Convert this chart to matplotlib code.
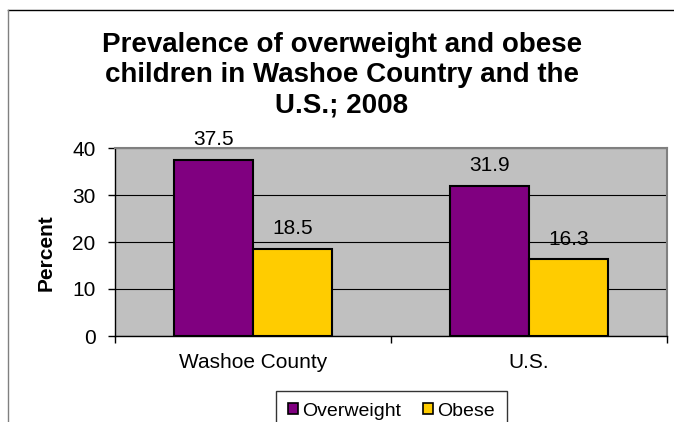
"""Bar chart: overweight and obese children, Washoe County vs U.S., 2008."""

import matplotlib
import matplotlib.pyplot as plt
from matplotlib.lines import Line2D
from matplotlib.patches import Patch
import numpy as np

matplotlib.use("Agg")

CATEGORIES = ["Washoe County", "U.S."]
SERIES = ["Overweight", "Obese"]
OVERWEIGHT = [37.5, 31.9]
OBESE = [18.5, 16.3]
Y_TICKS = [0, 10, 20, 30, 40]
TITLE = "Prevalence of overweight and obese\nchildren in Washoe Country and the\nU.S.; 2008"

PURPLE = "#800080"
GOLD = "#FFCC00"
PLOT_BG = "#C0C0C0"
W, H = 674, 422

plt.rcParams["font.family"] = ["Liberation Sans", "DejaVu Sans"]

fig = plt.figure(figsize=(W / 100, H / 100), dpi=100)
ax = fig.add_axes([115 / W, 1 - 336 / H, 552 / W, 188 / H])
ax.set_facecolor(PLOT_BG)

x = np.arange(len(CATEGORIES))
width = 0.286
for offset, values, color, name in ((-width / 2, OVERWEIGHT, PURPLE, SERIES[0]),
                                    (width / 2, OBESE, GOLD, SERIES[1])):
    bars = ax.bar(x + offset, values, width, color=color, edgecolor="black", linewidth=1.5, zorder=3)
    for bar, value in zip(bars, values):
        ax.annotate(f"{value:.1f}", (bar.get_x() + bar.get_width() / 2, value),
                    xytext=(0, 10.5), textcoords="offset points",
                    ha="center", va="baseline", fontsize=15)

ax.set_xlim(-0.5, 1.5)
ax.set_ylim(0, 40)
ax.set_yticks(Y_TICKS)
ax.yaxis.grid(True, color="black", linewidth=0.8, zorder=0)
ax.set_axisbelow(True)
ax.set_xticks(x)
ax.set_xticklabels(CATEGORIES, fontsize=15)
ax.set_xticks([-0.5, 0.5, 1.5], minor=True)
ax.tick_params(axis="x", which="major", length=0, pad=12)
ax.tick_params(axis="x", which="minor", length=5, width=1, color="black", direction="out")
ax.tick_params(axis="y", length=5, width=1, labelsize=15, pad=9)

for side in ("top", "right"):
    ax.spines[side].set_color("#808080")
    ax.spines[side].set_linewidth(1.5)
for side in ("left", "bottom"):
    ax.spines[side].set_color("black")
    ax.spines[side].set_linewidth(1.0)

fig.text(46 / W, 1 - 253 / H, "Percent", rotation=90, ha="center", va="center",
         fontsize=15, fontweight="bold")
# va="baseline" on multi-line text pins the last line's baseline
fig.text(342 / W, 1 - 112 / H, TITLE, ha="center", va="baseline",
         fontsize=20, fontweight="bold", linespacing=1.2)

handles = [Patch(facecolor=PURPLE, edgecolor="black", linewidth=1.2, label=SERIES[0]),
           Patch(facecolor=GOLD, edgecolor="black", linewidth=1.2, label=SERIES[1])]
fig.legend(handles=handles, loc="upper center", bbox_to_anchor=(391.5 / W, 1 - 391 / H),
           ncol=2, fontsize=14, frameon=True, fancybox=False, edgecolor="black",
           handlelength=0.5, handleheight=0.5, handletextpad=0.25, columnspacing=1.1,
           borderpad=0.6, borderaxespad=0)

# outer chart-area border (clipped by the crop on right and bottom)
fig.add_artist(Line2D([8 / W, 1], [1 - 10 / H, 1 - 10 / H], color="black", linewidth=1.0))
fig.add_artist(Line2D([8 / W, 8 / W], [0, 1 - 10 / H], color="#808080", linewidth=1.0))

fig.savefig("out.png", dpi=100)
